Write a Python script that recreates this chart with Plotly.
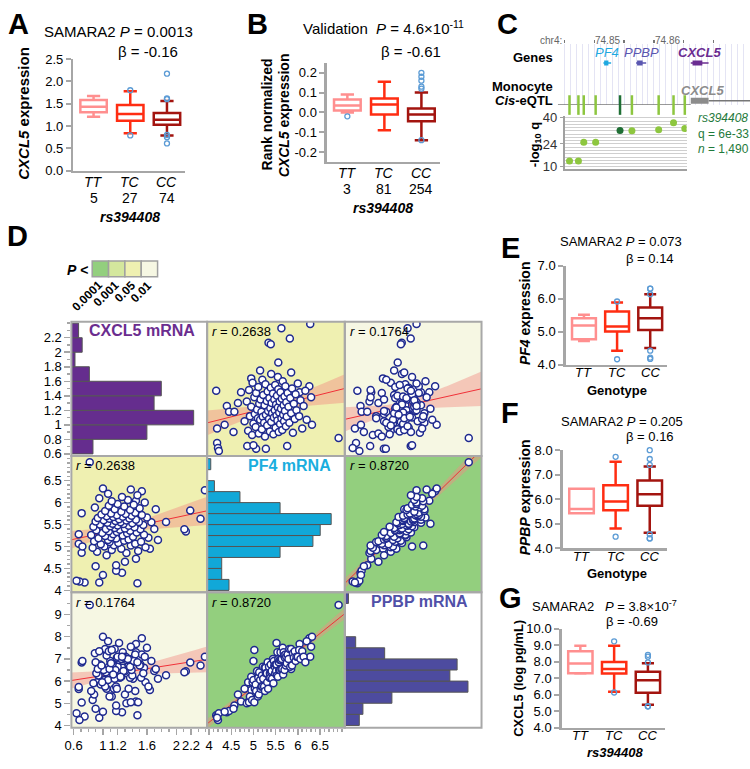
import numpy as np
import plotly.graph_objects as go

W, H = 750, 769
FONT = "Liberation Sans, Arial, Helvetica, sans-serif"
AXC = "#A6A6A6"

# ---------------- data ----------------
genotypes = ["TT", "TC", "CC"]
geno_colors = ["#FF8F8F", "#FF2D12", "#A3140F"]
out_color = "#5B9BD5"

# Panel A  (SAMARA2, CXCL5 expression)
a_n = [5, 27, 74]
a_q1 = [1.31, 1.12, 1.03]
a_med = [1.43, 1.27, 1.14]
a_q3 = [1.58, 1.47, 1.29]
a_lo = [1.21, 0.84, 0.79]
a_hi = [1.67, 1.78, 1.56]
a_out_g = [1, 1, 2, 2, 2, 2, 2, 2]
a_out_v = [1.80, 0.79, 2.17, 1.62, 1.60, 0.80, 0.75, 0.61]

# Panel B  (Validation, rank normalized CXCL5)
b_n = [3, 81, 254]
b_q1 = [0.010, -0.010, -0.045]
b_med = [0.035, 0.040, -0.010]
b_q3 = [0.065, 0.070, 0.020]
b_lo = [0.000, -0.090, -0.140]
b_hi = [0.090, 0.155, 0.100]
b_out_g = [0, 2, 2, 2, 2, 2, 2]
b_out_v = [-0.02, 0.20, 0.18, 0.16, 0.13, 0.12, -0.14]

# Panel E  (PF4 expression)
e_q1 = [4.78, 5.01, 5.06]
e_med = [5.19, 5.16, 5.41]
e_q3 = [5.41, 5.62, 5.74]
e_lo = [4.72, 4.43, 4.51]
e_hi = [5.52, 5.89, 6.14]
e_out_g = [1, 1, 2, 2, 2, 2, 2, 2]
e_out_v = [5.92, 4.17, 6.31, 6.31, 6.14, 4.43, 4.22, 4.18]

# Panel F  (PPBP expression)
f_q1 = [5.43, 5.55, 5.73]
f_med = [5.60, 5.91, 6.20]
f_q3 = [6.43, 6.57, 6.76]
f_lo = [5.43, 4.80, 4.63]
f_hi = [6.43, 7.53, 7.33]
f_out_g = [1, 1, 2, 2, 2, 2, 2, 2]
f_out_v = [7.73, 4.47, 8.00, 7.64, 7.40, 4.57, 4.40, 4.40]

# Panel G  (plasma CXCL5)
g_q1 = [7.30, 7.28, 6.12]
g_med = [7.88, 7.55, 6.88]
g_q3 = [8.63, 7.98, 7.38]
g_lo = [7.28, 6.18, 5.39]
g_hi = [8.97, 8.97, 7.91]
g_out_g = [1, 1, 2, 2, 2, 2, 2, 2]
g_out_v = [9.23, 6.13, 8.41, 8.30, 7.95, 5.29, 5.29, 5.29]

# Panel C  (locus)
c_snp_pos = [74.8408, 74.8423, 74.8432, 74.8452, 74.8493, 74.8513, 74.8558, 74.8583, 74.8602]
c_snp_q = [13.6, 13.6, 25.0, 25.0, 32.2, 32.0, 32.7, 37.0, 33.4]
c_lead = 4
c_lead_text = ["<i>rs394408</i>", "q = 6e-33", "<i>n</i> = 1,490"]
c_gene_names = ["PF4", "PPBP", "CXCL5"]
c_gene_start = [74.8465, 74.8520, 74.8612]
c_gene_end = [74.8478, 74.8537, 74.8642]
c_gene_colors = ["#1FA8E0", "#5A56B0", "#6A2C91"]
c_ruler_ticks = [74.840, 74.845, 74.850, 74.855, 74.860, 74.865]
c_ruler_labels = ["74.85", "74.86"]
c_ruler_label_pos = [74.850, 74.860]
c_q_ticks = [10, 24, 40]

# Panel D  (scatter-matrix samples)
cxcl5 = [2.39, 2.33, 2.13, 2.19, 2.11, 1.86, 0.82, 1.47, 0.75, 0.68, 0.64, 0.95, 1.26, 1.18, 1.18, 0.71, 0.67,
         0.67, 0.71, 1.45, 1.53, 1.00, 0.90, 1.30, 1.45, 1.10, 1.22, 1.00, 0.72, 1.70, 1.75, 1.66, 1.72, 1.64,
         1.05, 1.32, 0.92, 1.48, 1.12, 1.25, 0.86, 1.58, 1.02, 1.38, 1.15, 0.97, 1.44, 1.21, 1.09, 1.52, 0.88,
         1.29, 1.07, 1.35, 1.18, 0.94, 1.62, 1.11, 1.41, 1.03, 1.27, 0.84, 1.56, 1.14, 1.33, 0.99, 1.46, 1.19,
         1.08, 1.37, 0.91, 1.23, 1.51, 1.04, 1.30, 1.16, 1.43, 0.87, 1.10, 1.35, 1.20, 1.55, 0.96, 1.28, 1.13,
         1.40, 1.06, 1.24, 1.49, 0.90, 1.17, 1.32, 1.01, 1.45, 1.22, 1.09, 1.36, 0.93, 1.60, 1.14, 1.27, 1.05,
         1.39, 1.19, 1.53, 0.98, 1.31, 1.11, 1.44, 1.25, 1.03, 1.37, 1.16, 1.50, 0.89, 1.29, 1.08, 1.42, 1.20,
         1.57, 1.12, 1.34, 0.95, 1.26, 1.47, 1.07, 1.38]
pf4 = [6.28, 5.63, 5.34, 5.82, 5.39, 5.56, 6.92, 4.16, 4.18, 4.20, 4.22, 4.18, 4.40, 4.45, 4.57, 4.86, 5.06,
       5.28, 5.76, 6.04, 6.26, 4.35, 4.55, 4.65, 4.72, 5.02, 5.52, 6.32, 5.00, 5.40, 5.15, 5.55, 5.85, 4.95,
       4.80, 4.85, 4.88, 4.90, 4.92, 4.95, 4.97, 4.98, 5.00, 5.02, 5.03, 5.05, 5.06, 5.08, 5.10, 5.11, 5.12,
       5.13, 5.15, 5.16, 5.18, 5.19, 5.20, 5.21, 5.22, 5.24, 5.25, 5.26, 5.27, 5.28, 5.30, 5.31, 5.32, 5.33,
       5.35, 5.36, 5.37, 5.38, 5.39, 5.40, 5.41, 5.42, 5.44, 5.45, 5.46, 5.47, 5.48, 5.49, 5.50, 5.51, 5.52,
       5.53, 5.54, 5.55, 5.56, 5.57, 5.58, 5.59, 5.60, 5.61, 5.62, 5.63, 5.64, 5.65, 5.66, 5.67, 5.68, 5.69,
       5.70, 5.71, 5.72, 5.73, 5.74, 5.75, 5.77, 5.79, 5.81, 5.83, 5.85, 5.87, 5.89, 5.91, 5.93, 5.95, 5.97,
       6.00, 6.03, 6.06, 6.10, 6.13, 6.17, 6.20, 6.30]
ppbp = [7.10, 6.70, 6.44, 6.84, 6.40, 6.26, 9.43, 4.46, 4.40, 4.25, 4.55, 4.35, 4.60, 4.65, 4.90, 5.03, 5.64,
        5.73, 6.84, 7.67, 7.93, 4.62, 4.75, 5.40, 5.08, 7.40, 7.72, 8.00, 6.90, 6.45, 6.10, 6.90, 6.55, 5.60,
        5.65, 5.00, 5.95, 5.05, 5.30, 6.20, 5.15, 5.95, 6.05, 5.05, 5.65, 5.85, 5.55, 6.45, 5.30, 6.15, 5.40,
        6.40, 6.05, 5.65, 5.75, 6.25, 5.75, 6.65, 6.10, 5.75, 6.60, 5.55, 6.60, 6.35, 6.35, 5.95, 6.85, 5.65,
        6.65, 6.15, 6.35, 6.15, 6.75, 6.40, 6.45, 6.10, 7.00, 5.90, 6.90, 6.70, 6.65, 6.35, 6.75, 6.45, 6.75,
        6.25, 7.30, 6.20, 7.00, 6.85, 6.50, 6.95, 6.50, 7.30, 6.95, 6.55, 7.00, 6.55, 7.50, 6.30, 7.30, 7.15,
        6.50, 7.05, 7.20, 6.70, 7.10, 6.80, 7.20, 7.00, 7.45, 6.65, 7.45, 6.70, 7.25, 7.05, 7.35, 6.90, 7.10,
        7.10, 7.40, 7.00, 7.35, 7.10, 6.85, 7.80, 7.55]

cxcl5_bins = [0.6, 0.8, 1.0, 1.2, 1.4, 1.6, 1.8, 2.0, 2.2]            # bin lower edges (width 0.2)
cxcl5_counts = [6, 21, 34, 23, 25, 5, 1, 3, 2]
pf4_bins = [4.0, 4.25, 4.5, 4.75, 5.0, 5.25, 5.5, 5.75, 6.0, 6.25, 6.5, 6.75]  # width 0.25
pf4_counts = [6, 4, 4, 20, 29, 31, 34, 20, 9, 2, 0, 1]
ppbp_bins = [4.0, 4.5, 5.0, 5.5, 6.0, 6.5, 7.0, 7.5, 8.0, 8.5, 9.0, 9.5]      # width 0.5
ppbp_counts = [4, 5, 13, 34, 29, 31, 11, 3, 0, 0, 0, 1]

var_labels = ["CXCL5 mRNA", "PF4 mRNA", "PPBP mRNA"]
r_values = {(0, 1): "0.2638", (0, 2): "0.1764", (1, 2): "0.8720"}
p_levels = ["0.0001", "0.001", "0.05", "0.01"]
pair_level = {(0, 1): 2, (0, 2): 3, (1, 2): 0}

# ---------------- helpers ----------------
traces, annots, shapes = [], [], []
layout_axes = {}
counter = [0]


def add_axes(x0, x1, y0, y1, xr, yr, xa=None, ya=None):
    counter[0] += 1
    i = counter[0]
    sx = "" if i == 1 else str(i)
    base = dict(showgrid=False, zeroline=False, showticklabels=False, ticks="", showline=False,
                fixedrange=True)
    xd = dict(base, domain=[x0 / W, x1 / W], range=list(xr), anchor="y" + sx)
    yd = dict(base, domain=[1 - y1 / H, 1 - y0 / H], range=list(yr), anchor="x" + sx)
    if xa:
        xd.update(xa)
    if ya:
        yd.update(ya)
    layout_axes["xaxis" + sx] = xd
    layout_axes["yaxis" + sx] = yd
    return "x" + sx, "y" + sx


def txt(x, y, s, size=13, color="black", xa="center", ya="middle", angle=0, bold=False):
    if bold:
        s = "<b>" + s + "</b>"
    annots.append(dict(x=x / W, y=1 - y / H, xref="paper", yref="paper", text=s, showarrow=False,
                       font=dict(size=size, color=color, family=FONT), xanchor=xa, yanchor=ya,
                       textangle=angle))


def box_panel(px, yr, ytv, ytt, q1, med, q3, lo, hi, og, ov, cat_size=14, cat_dy=10, counts=None,
              count_dy=17, xr=(-0.55, 2.5), bw=0.72):
    x0, x1, y0, y1 = px
    xref, yref = add_axes(x0, x1, y0, y1, xr, yr,
                          xa=dict(showline=True, linecolor=AXC, linewidth=2.5),
                          ya=dict(showline=True, linecolor=AXC, linewidth=2.5, ticks="outside", ticklen=5,
                                  tickwidth=2, tickcolor=AXC, tickvals=ytv, ticktext=ytt,
                                  showticklabels=True, tickfont=dict(size=13)))
    for i in range(3):
        traces.append(go.Box(x=[i], q1=[q1[i]], median=[med[i]], q3=[q3[i]], lowerfence=[lo[i]],
                             upperfence=[hi[i]], width=bw, whiskerwidth=0.5, fillcolor="white",
                             line=dict(color=geno_colors[i], width=2.5), boxpoints=False,
                             xaxis=xref, yaxis=yref, hoverinfo="skip"))
        cx = x0 + (i - xr[0]) / (xr[1] - xr[0]) * (x1 - x0)
        txt(cx, y1 + cat_dy, "<i>%s</i>" % genotypes[i], size=cat_size)
        if counts is not None:
            txt(cx, y1 + cat_dy + count_dy, str(counts[i]), size=cat_size)
    traces.append(go.Scatter(x=og, y=ov, mode="markers",
                             marker=dict(symbol="circle-open", size=5, color=out_color, line=dict(width=1.3)),
                             xaxis=xref, yaxis=yref, cliponaxis=False, hoverinfo="skip"))
    return xref, yref


# ---------------- Panel A ----------------
box_panel((67, 180, 53, 167), (0, 2.5), [0, 0.5, 1, 1.5, 2, 2.5], ["0.0", "0.5", "1.0", "1.5", "2.0", "2.5"],
          a_q1, a_med, a_q3, a_lo, a_hi, a_out_g, a_out_v, cat_size=14, cat_dy=11, counts=a_n)
txt(12, 17, "A", size=29, bold=True)
txt(35, 25, "SAMARA2 <i>P</i> = 0.0013", size=15, xa="left")
txt(110, 45, "β = -0.16", size=15, xa="left")
txt(17, 108, "<i>CXCL5</i> expression", size=15, angle=-90, bold=True)
txt(124, 214, "<i>rs394408</i>", size=14, bold=True)

# ---------------- Panel B ----------------
box_panel((323, 437, 57, 158), (-0.25, 0.25), [-0.2, -0.1, 0, 0.1, 0.2], ["-0.2", "-0.1", "0.0", "0.1", "0.2"],
          b_q1, b_med, b_q3, b_lo, b_hi, b_out_g, b_out_v, cat_size=14, cat_dy=11, counts=b_n)
txt(253, 17, "B", size=29, bold=True)
txt(297, 21, "Validation  <i>P</i> = 4.6×10<sup>-11</sup>", size=15, xa="left")
txt(375, 45, "β = -0.61", size=15, xa="left")
txt(262, 110, "Rank normalized", size=14, angle=-90, bold=True)
txt(279, 110, "<i>CXCL5</i> expression", size=14, angle=-90, bold=True)
txt(380, 205, "<i>rs394408</i>", size=14, bold=True)

# ---------------- Panel C ----------------
gx0 = 74.85 + (556 - 623) / 6000.0
gx1 = 74.85 + (750 - 623) / 6000.0
gxr, gyr = add_axes(556, 750, 38, 100, (gx0, gx1), (0, 1),
                    xa=dict(side="top", ticks="outside", ticklen=3, tickcolor="#777", tickwidth=1.5,
                            tickvals=c_ruler_ticks, showgrid=True, gridcolor="#E4E4F4", gridwidth=1,
                            minor=dict(dtick=0.001, tick0=74.84, showgrid=True, gridcolor="#E4E4F4",
                                       gridwidth=1, ticks="")))
traces.append(go.Scatter(x=[gx0, 74.8612], y=[0, 0], mode="lines", line=dict(color="#777", width=1.5),
                         xaxis=gxr, yaxis=gyr, cliponaxis=False, hoverinfo="skip"))
traces.append(go.Scatter(x=[74.8642, gx1], y=[0.07, 0.07], mode="lines", line=dict(color="#777", width=1.5),
                         xaxis=gxr, yaxis=gyr, cliponaxis=False, hoverinfo="skip"))
traces.append(go.Scatter(x=[c_gene_start[2], c_gene_end[2]], y=[0.07, 0.07], mode="lines",
                         line=dict(color="#8C8C8C", width=6), xaxis=gxr, yaxis=gyr, hoverinfo="skip"))
for nm, s, e, col in zip(c_gene_names, c_gene_start, c_gene_end, c_gene_colors):
    traces.append(go.Scatter(x=[s, e], y=[0.69, 0.69], mode="lines", line=dict(color=col, width=1.5),
                             xaxis=gxr, yaxis=gyr, hoverinfo="skip"))
    traces.append(go.Scatter(x=[s + (e - s) * 0.1, e - (e - s) * 0.35], y=[0.69, 0.69], mode="lines",
                             line=dict(color=col, width=5), xaxis=gxr, yaxis=gyr, hoverinfo="skip"))
snp_cols = ["#1F6F35" if i == c_lead else "#8DC63F" for i in range(len(c_snp_pos))]
traces.append(go.Scatter(x=c_snp_pos, y=[0] * len(c_snp_pos), mode="markers",
                         marker=dict(symbol="line-ns", size=14, line=dict(width=2.5, color=snp_cols)),
                         xaxis=gxr, yaxis=gyr, cliponaxis=False, hoverinfo="skip"))
annots.append(dict(x=c_snp_pos[c_lead], y=-0.11, xref=gxr, yref=gyr, ax=74, ay=8, text="",
                   showarrow=True, arrowhead=2, arrowsize=1, arrowwidth=1.3, arrowcolor="#1F7A3C",
                   standoff=3))
qxr, qyr = add_axes(563, 686, 111, 165, (74.84, 74.84 + 123 / 6000.0), (8.8, 41.2),
                    xa=dict(showline=True, linecolor="#A0A0A0", linewidth=2),
                    ya=dict(showline=True, linecolor="#A0A0A0", linewidth=2, ticks="outside", ticklen=3,
                            tickcolor="#A0A0A0", tickvals=c_q_ticks, showticklabels=True,
                            tickfont=dict(size=13, color="#333"), showgrid=True, gridcolor="#CFCFCF",
                            minor=dict(dtick=2, tick0=10, showgrid=True, gridcolor="#CFCFCF", ticks="")))
traces.append(go.Scatter(x=c_snp_pos, y=c_snp_q, mode="markers",
                         marker=dict(size=7, color=snp_cols), xaxis=qxr, yaxis=qyr, hoverinfo="skip"))
txt(505, 17, "C", size=29, bold=True)
txt(562, 34, "chr4:", size=10, color="#666", xa="right")
for lab, pos in zip(c_ruler_labels, c_ruler_label_pos):
    txt(623 + (pos - 74.85) * 6000 - 2, 34, lab, size=10, color="#666", xa="right")
txt(553, 51, "Genes", size=13, xa="right", bold=True)
txt(553, 81, "Monocyte", size=13, xa="right", bold=True)
txt(553, 95, "<i>Cis</i>-eQTL", size=13, xa="right", bold=True)
for nm, s, e, col in zip(c_gene_names, c_gene_start, c_gene_end, c_gene_colors):
    txt(623 + ((s + e) / 2 - 74.85) * 6000, 46, "<i>%s</i>" % nm, size=13, color=col, bold=(nm == "CXCL5"))
txt(702, 85, "<i>CXCL5</i>", size=13, color="#8C8C8C", bold=True)
txt(695, 129, "<br>".join(c_lead_text), size=12, color="#1F7A3C", xa="left")
annots[-1]["align"] = "left"
txt(533, 140, "-log<sub>10</sub> q", size=13, angle=-90, bold=True)

# ---------------- Panel D ----------------
txt(11, 234, "D", size=29, bold=True)
txt(71, 268, "<i>P</i> <", size=14, bold=True)
leg_cols = ["#93CF7E", "#D4E79D", "#EFF0B1", "#F6F7E3"]
for i, (lab, col) in enumerate(zip(p_levels, leg_cols)):
    sx0 = 86 + i * 16.5
    shapes.append(dict(type="rect", xref="paper", yref="paper", x0=sx0 / W, x1=(sx0 + 16.5) / W,
                       y0=1 - 275 / H, y1=1 - 259 / H, fillcolor=col, line=dict(color="#A0A0A0", width=1.5)))
    L = len(lab) * 6.6
    txt(sx0 + 9 - L / 2 * 0.707, 281 + L / 2 * 0.707, lab, size=12, angle=-45, bold=True)

cols_px = [65, 202, 341, 479]
rows_px = [321, 458, 597, 735]
var_data = [cxcl5, pf4, ppbp]
var_range = [(0.57, 2.42), (3.955, 7.06), (3.9, 10.0)]
hist_bins = [cxcl5_bins, pf4_bins, ppbp_bins]
hist_counts = [cxcl5_counts, pf4_counts, ppbp_counts]
hist_colors = ["#652D8E", "#11A8D8", "#4D4B9F"]
label_colors = ["#6B2D8F", "#1AAEDE", "#5050A8"]
y_ticks = [([0.6, 0.8, 1, 1.2, 1.4, 1.6, 1.8, 2, 2.2], ["0.6", "0.8", "1", "1.2", "1.4", "1.6", "1.8", "2", "2.2"]),
           ([4, 4.5, 5, 5.5, 6, 6.5], ["4", "4.5", "5", "5.5", "6", "6.5"]),
           ([4, 5, 6, 7, 8, 9], ["4", "5", "6", "7", "8", "9"])]
x_ticks = [([0.6, 1, 1.2, 1.6, 2, 2.2], ["0.6", "1", "1.2", "1.6", "2", "2.2"]),
           ([4, 4.5, 5, 5.5, 6, 6.5], ["4", "4.5", "5", "5.5", "6", "6.5"]),
           ([4, 5, 6, 7, 8, 9], ["4", "5", "6", "7", "8", "9"])]
minor_step = [0.1, 0.1, 0.5]


def reg_band(x, y, xr):
    x = np.asarray(x, float)
    y = np.asarray(y, float)
    n = len(x)
    b1, b0 = np.polyfit(x, y, 1)
    xs = np.linspace(xr[0], xr[1], 60)
    yh = b0 + b1 * xs
    s = np.sqrt(np.sum((y - (b0 + b1 * x)) ** 2) / (n - 2))
    se = s * np.sqrt(1.0 / n + (xs - x.mean()) ** 2 / np.sum((x - x.mean()) ** 2))
    return xs, yh, yh - 1.98 * se, yh + 1.98 * se


def tick_dict(k, tv, tt):
    lo_, hi_ = var_range[k]
    st = minor_step[k]
    mv = [round(v, 2) for v in np.arange(np.ceil(lo_ / st) * st, hi_, st)]
    return dict(showticklabels=True, tickvals=tv, ticktext=tt, ticks="outside", ticklen=6,
                tickcolor=AXC, tickwidth=1.5, tickfont=dict(size=13),
                minor=dict(tickmode="array", tickvals=mv, ticks="outside", ticklen=3,
                           tickcolor=AXC, tickwidth=1.5))


for r in range(3):
    for c in range(3):
        x0, x1 = cols_px[c], cols_px[c + 1]
        y0, y1 = rows_px[r], rows_px[r + 1]
        ya = tick_dict(r, *y_ticks[r]) if c == 0 else {}
        xa = tick_dict(c, *x_ticks[c]) if r == 2 else {}
        if r == c:
            cnt = hist_counts[r]
            bins = hist_bins[r]
            bw = bins[1] - bins[0]
            xref, yref = add_axes(x0, x1, y0, y1, (0, max(cnt) * 1.11), var_range[r], ya=ya)
            if r == 2:
                xref2, yref2 = add_axes(x0, x1, y0, y1, var_range[2], var_range[2], xa=xa)
                layout_axes["yaxis" + xref2[1:]]["visible"] = False
            traces.append(go.Bar(y=[b + bw / 2 for b in bins], x=cnt, orientation="h", width=bw,
                                 marker=dict(color=hist_colors[r], line=dict(color="#555", width=1)),
                                 xaxis=xref, yaxis=yref, hoverinfo="skip"))
        else:
            xref, yref = add_axes(x0, x1, y0, y1, var_range[c], var_range[r], xa=xa, ya=ya)
            key = (min(r, c), max(r, c))
            shapes.append(dict(type="rect", xref=xref + " domain", yref=yref + " domain", x0=0, x1=1, y0=0,
                               y1=1, fillcolor=leg_cols[pair_level[key]], line=dict(width=0), layer="below"))
            xs, yh, ylo, yhi = reg_band(var_data[c], var_data[r], var_range[c])
            traces.append(go.Scatter(x=np.concatenate([xs, xs[::-1]]), y=np.concatenate([yhi, ylo[::-1]]),
                                     fill="toself", fillcolor="rgba(242,140,130,0.45)", line=dict(width=0),
                                     mode="lines", xaxis=xref, yaxis=yref, hoverinfo="skip"))
            traces.append(go.Scatter(x=xs, y=yh, mode="lines", line=dict(color="#F03038", width=1),
                                     xaxis=xref, yaxis=yref, hoverinfo="skip"))
            traces.append(go.Scatter(x=var_data[c], y=var_data[r], mode="markers",
                                     marker=dict(size=7, color="white", line=dict(color="#1F2A8F", width=1.5)),
                                     xaxis=xref, yaxis=yref, hoverinfo="skip"))
            txt(x0 + 3, y0 + 10, "<i>r</i> = " + r_values[key], size=13, xa="left")
        shapes.append(dict(type="rect", xref=xref + " domain", yref=yref + " domain", x0=0, x1=1, y0=0, y1=1,
                           line=dict(color="#A8A8A8", width=2), layer="above"))

txt(136, 330, var_labels[0], size=16, color=label_colors[0], bold=True)
txt(285, 468, var_labels[1], size=16, color=label_colors[1], bold=True)
txt(416, 606, var_labels[2], size=16, color=label_colors[2], bold=True)

# ---------------- Panels E, F, G ----------------
box_panel((564, 666, 264, 365), (4, 7), [4, 5, 6, 7], ["4.0", "5.0", "6.0", "7.0"],
          e_q1, e_med, e_q3, e_lo, e_hi, e_out_g, e_out_v, cat_size=13, cat_dy=8)
txt(508, 246, "E", size=29, bold=True)
txt(556, 239, "SAMARA2 <i>P</i> = 0.073", size=13, xa="left")
txt(623, 256, "β = 0.14", size=13, xa="left")
txt(523, 312, "<i>PF4</i> expression", size=14, angle=-90, bold=True)
txt(616, 391, "Genotype", size=13, bold=True)

box_panel((561, 666, 452, 552), (4, 8), [4, 5, 6, 7, 8], ["4.0", "5.0", "6.0", "7.0", "8.0"],
          f_q1, f_med, f_q3, f_lo, f_hi, f_out_g, f_out_v, cat_size=13, cat_dy=8)
txt(508, 414, "F", size=29, bold=True)
txt(557, 423, "SAMARA2 <i>P</i> = 0.205", size=13, xa="left")
txt(623, 438, "β = 0.16", size=13, xa="left")
txt(523, 500, "<i>PPBP</i> expression", size=14, angle=-90, bold=True)
txt(616, 578, "Genotype", size=13, bold=True)

box_panel((560, 664, 634, 735), (4, 10), [4, 5, 6, 7, 8, 9, 10], ["4.0", "5.0", "6.0", "7.0", "8.0", "9.0", "10.0"],
          g_q1, g_med, g_q3, g_lo, g_hi, g_out_g, g_out_v, cat_size=13, cat_dy=8)
txt(508, 603, "G", size=29, bold=True)
txt(528, 611, "SAMARA2", size=13, xa="left")
txt(602, 611, "<i>P</i> = 3.8×10<sup>-7</sup>", size=13, xa="left")
txt(603, 627, "β = -0.69", size=13, xa="left")
txt(516, 685, "CXCL5 (log pg/mL)", size=13, angle=-90, bold=True)
txt(614, 760, "<i>rs394408</i>", size=13, bold=True)

fig = go.Figure(data=traces)
fig.update_layout(width=W, height=H, margin=dict(l=0, r=0, t=0, b=0), paper_bgcolor="white",
                  plot_bgcolor="rgba(0,0,0,0)", showlegend=False, hovermode=False,
                  font=dict(family=FONT, color="black", size=13), annotations=annots, shapes=shapes,
                  **layout_axes)
fig.write_html("out.html", config={"displayModeBar": False, "staticPlot": True},
               post_script="document.body.style.margin='0px';document.body.style.overflow='hidden';")
